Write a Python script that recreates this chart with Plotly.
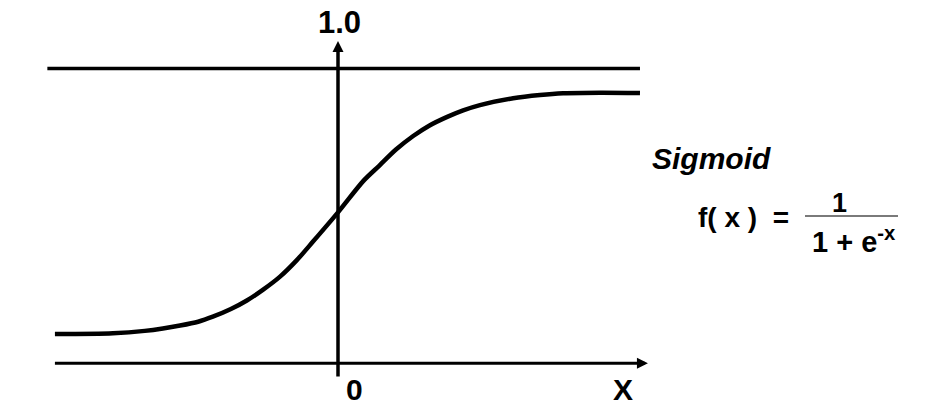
import plotly.graph_objects as go

# Curve points (x in axis units, y where 0 = x-axis, 1.0 = top line)
curve_x = [-6.74, -5.36, -4.60, -4.17, -3.76, -3.33, -2.98, -2.55, -2.17, -1.79, -1.38,
           -0.98, -0.60, 0.00, 0.60, 0.98, 1.38, 1.79, 2.17, 2.60, 2.98, 3.38, 4.17,
           4.81, 5.36, 6.24, 7.19]
curve_y = [0.099, 0.102, 0.110, 0.118, 0.128, 0.141, 0.158, 0.184, 0.213, 0.249, 0.294,
           0.350, 0.412, 0.512, 0.618, 0.670, 0.725, 0.771, 0.806, 0.836, 0.858, 0.876, 0.899,
           0.910, 0.916, 0.918, 0.917]

# Reference line / axes extents
top_line_x = [-6.92, 7.19]
top_line_y = [1.0, 1.0]
x_axis_x = [-6.74, 7.30]
x_axis_y = [0.0, 0.0]
x_axis_tip = 7.38
y_axis_x = [0.0, 0.0]
y_axis_y = [-0.045, 1.06]
y_axis_tip = 1.093

# Labels
y_tick_label = "1.0"
x_tick_label = "0"
x_axis_label = "X"
title_text = "<b><i>Sigmoid</i></b>"
lhs_text = "<b>f( x )  =</b>"
numerator_text = "<b>1</b>"
denominator_text = "<b>1 + e<sup>-x</sup></b>"

W, H = 926, 413
FONT = "Liberation Sans, Arial, sans-serif"
BLACK = "#000000"

fig = go.Figure()

fig.add_trace(go.Scatter(x=top_line_x, y=top_line_y, mode="lines",
                         line=dict(color=BLACK, width=3.5), hoverinfo="skip"))
fig.add_trace(go.Scatter(x=x_axis_x, y=x_axis_y, mode="lines",
                         line=dict(color=BLACK, width=3), hoverinfo="skip"))
fig.add_trace(go.Scatter(x=y_axis_x, y=y_axis_y, mode="lines",
                         line=dict(color=BLACK, width=3.5), hoverinfo="skip"))
fig.add_trace(go.Scatter(x=curve_x, y=curve_y, mode="lines",
                         line=dict(color=BLACK, width=4.5, shape="spline", smoothing=0.8),
                         hoverinfo="skip"))

# Arrow heads (tip of the marker sits on the data point)
fig.add_trace(go.Scatter(x=[x_axis_tip], y=[0], mode="markers",
                         marker=dict(symbol="arrow-right", size=11, color=BLACK,
                                     line=dict(width=0)), hoverinfo="skip"))
fig.add_trace(go.Scatter(x=[0], y=[y_axis_tip], mode="markers",
                         marker=dict(symbol="arrow-up", size=11, color=BLACK,
                                     line=dict(width=0)), hoverinfo="skip"))

def px_text(text, px, py, size, xanchor="center"):
    fig.add_annotation(x=px / W, y=1 - py / H, xref="paper", yref="paper",
                       text=text, showarrow=False, xanchor=xanchor, yanchor="middle",
                       font=dict(family=FONT, size=size, color=BLACK))

px_text("<b>" + y_tick_label + "</b>", 339, 22.5, 31)
px_text("<b>" + x_tick_label + "</b>", 354, 389, 30)
px_text("<b>" + x_axis_label + "</b>", 623, 389, 30)
px_text(title_text, 711, 158, 30)
px_text(lhs_text, 743, 218, 28)
px_text(numerator_text, 839, 203, 27)
px_text(denominator_text, 854, 240, 29)

# Fraction bar
fig.add_shape(type="line", xref="paper", yref="paper",
              x0=805 / W, x1=898 / W, y0=1 - 216 / H, y1=1 - 216 / H,
              line=dict(color="#7a7a7a", width=2))

fig.update_layout(
    width=W, height=H,
    margin=dict(l=0, r=0, t=0, b=0),
    paper_bgcolor="white", plot_bgcolor="white",
    showlegend=False,
    xaxis=dict(range=[-338 / 42, (W - 338) / 42], visible=False, fixedrange=True),
    yaxis=dict(range=[(363.3 - H) / 294.8, 363.3 / 294.8], visible=False, fixedrange=True),
)

fig.write_html("out.html", config={"displayModeBar": False},
               post_script="document.body.style.margin='0';document.body.style.overflow='hidden';")
